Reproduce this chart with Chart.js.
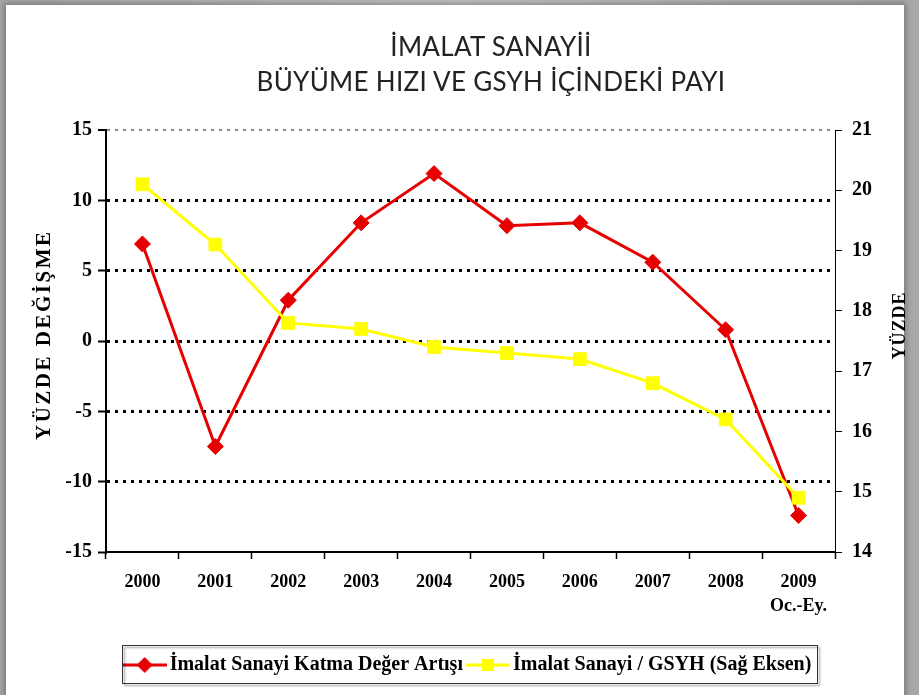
<!DOCTYPE html>
<html lang="tr">
<head>
<meta charset="utf-8">
<title>İmalat Sanayii</title>
<script src="https://cdn.jsdelivr.net/npm/chart.js@4.4.1/dist/chart.umd.min.js"></script>
<style>
  html, body { margin: 0; padding: 0; }
  body {
    position: relative;
    width: 919px;
    height: 695px;
    overflow: hidden;
    background: linear-gradient(90deg, #a8a8a8, #c4c4c4 50%, #a8a8a8);
  }
  #sheet {
    position: absolute;
    left: 6px;
    top: 5px;
    width: 898px;
    height: 700px;
    background: #fff;
    box-shadow: 0 0 6px 2px rgba(0, 0, 0, 0.3);
  }
  #title {
    position: absolute;
    left: 63px;
    top: 29px;
    width: 856px;
    text-align: center;
    font-family: Lato, "Open Sans", sans-serif;
    font-size: 26px;
    letter-spacing: 0.3px;
    line-height: 35px;
    color: #222;
  }
  #chart {
    position: absolute;
    left: 0;
    top: 0;
  }
</style>
</head>
<body>
<div id="sheet"></div>
<canvas id="chart" width="919" height="695"></canvas>
<div id="title">İMALAT SANAYİİ<br>BÜYÜME HIZI VE GSYH İÇİNDEKİ PAYI</div>

<script>
// Veriler
const YEARS = ['2000', '2001', '2002', '2003', '2004', '2005', '2006', '2007', '2008', ['2009', 'Oc.-Ey.']];
const GROWTH = [6.9, -7.5, 2.9, 8.4, 11.9, 8.2, 8.4, 5.6, 0.8, -12.4];   // sol eksen
const GDP_SHARE = [20.1, 19.1, 17.8, 17.7, 17.4, 17.3, 17.2, 16.8, 16.2, 14.9]; // sağ eksen
const SERIES_NAMES = ['İmalat Sanayi Katma Değer Artışı', 'İmalat Sanayi / GSYH (Sağ Eksen)'];
const LEFT_TITLE = 'YÜZDE DEĞİŞME';
const RIGHT_TITLE = 'YÜZDE';

const RED = '#e60000';
const YELLOW = '#ffff00';
const SERIF = '"Liberation Serif", "Times New Roman", serif';

// legend ikonu: çizgi + işaret
function legendIcon(color, shape) {
  const c = document.createElement('canvas');
  c.width = 44;
  c.height = 20;
  const g = c.getContext('2d');
  g.strokeStyle = color;
  g.fillStyle = color;
  g.lineWidth = 3;
  g.beginPath();
  g.moveTo(0, 10);
  g.lineTo(44, 10);
  g.stroke();
  g.beginPath();
  if (shape === 'diamond') {
    g.moveTo(22, 2);
    g.lineTo(30, 10);
    g.lineTo(22, 18);
    g.lineTo(14, 10);
    g.closePath();
    g.fill();
  } else {
    g.fillRect(16, 4, 12, 12);
  }
  return c;
}
const LEGEND_ICONS = [legendIcon(RED, 'diamond'), legendIcon(YELLOW, 'square')];

// dikey eksen başlığı (aşağıdan yukarı, harf aralıklı)
function sideTitle(xOf, dy, spacing) {
  return function () {
    const { ctx, chart, options: { title } } = this;
    if (!title.display) return;
    const area = chart.chartArea;
    ctx.save();
    ctx.translate(xOf(this), (area.top + area.bottom) / 2 + dy);
    ctx.rotate(-Math.PI / 2);
    ctx.font = `bold ${title.font.size}px ${SERIF}`;
    ctx.letterSpacing = spacing + 'px';
    ctx.fillStyle = '#000';
    ctx.textAlign = 'center';
    ctx.textBaseline = 'middle';
    ctx.fillText(title.text, spacing / 2, 0);
    ctx.restore();
  };
}

// legend çerçevesi
const legendFrame = {
  id: 'legendFrame',
  afterDraw(chart) {
    const lg = chart.legend;
    if (!lg || !lg.legendHitBoxes || !lg.legendHitBoxes.length) return;
    const hb = lg.legendHitBoxes;
    const left = Math.min(...hb.map(b => b.left)) - 8;
    const right = Math.max(...hb.map(b => b.left + b.width)) + 5;
    const { ctx } = chart;
    ctx.save();
    ctx.shadowColor = 'rgba(0,0,0,0.45)';
    ctx.shadowOffsetX = 2;
    ctx.shadowOffsetY = 2;
    ctx.shadowBlur = 2;
    ctx.strokeStyle = '#333';
    ctx.lineWidth = 1;
    ctx.strokeRect(Math.round(left) + 0.5, lg.top + 0.5, Math.round(right - left), lg.height - 2);
    ctx.restore();
  }
};

new Chart(document.getElementById('chart'), {
  type: 'line',
  data: {
    labels: YEARS,
    datasets: [
      {
        label: SERIES_NAMES[0],
        data: GROWTH,
        yAxisID: 'y',
        order: 1,
        borderColor: RED,
        backgroundColor: RED,
        borderWidth: 3,
        pointStyle: 'rectRot',
        pointRadius: 8,
        pointBorderWidth: 1,
        tension: 0
      },
      {
        label: SERIES_NAMES[1],
        data: GDP_SHARE,
        yAxisID: 'y1',
        order: 0,
        borderColor: YELLOW,
        backgroundColor: YELLOW,
        borderWidth: 3,
        pointStyle: 'rect',
        pointRadius: 9,
        pointBorderWidth: 1,
        tension: 0
      }
    ]
  },
  options: {
    responsive: false,
    animation: false,
    devicePixelRatio: 1,
    events: [],
    layout: { padding: { left: 8, right: 4, top: 130, bottom: 10 } },
    scales: {
      x: {
        offset: true,
        afterFit(s) { s.height = 93; },
        grid: {
          offset: true,
          drawOnChartArea: false,
          tickLength: 7,
          tickColor: '#000',
          tickWidth: 1.5
        },
        border: { color: '#000', width: 2 },
        ticks: {
          autoSkip: false,
          maxRotation: 0,
          padding: 11,
          color: '#000',
          font: { family: SERIF, size: 18, weight: 'bold', lineHeight: 1.35 }
        }
      },
      y: {
        position: 'left',
        min: -15,
        max: 15,
        afterFit(s) {
          s.width = 98;
          s.drawTitle = sideTitle(sc => sc.left + 37, -5, 2.5);
        },
        title: { display: true, text: LEFT_TITLE, font: { family: SERIF, size: 21, weight: 'bold' } },
        grid: {
          color: c => c.tick.value === 15 ? '#8a8a8a' : (c.tick.value === -15 ? 'rgba(0,0,0,0)' : '#000'),
          lineWidth: c => c.tick.value === 15 ? 2 : 3,
          tickColor: '#000',
          tickWidth: 2,
          tickLength: 8
        },
        border: { color: '#000', width: 2, dash: [3, 5] },
        ticks: {
          stepSize: 5,
          padding: 6,
          color: '#000',
          font: { family: SERIF, size: 20, weight: 'bold' }
        }
      },
      y1: {
        position: 'right',
        min: 14,
        max: 21,
        afterFit(s) {
          s.width = 80;
          s.drawTitle = sideTitle(sc => sc.right - 15, -15, 1);
        },
        title: { display: true, text: RIGHT_TITLE, font: { family: SERIF, size: 18, weight: 'bold' } },
        grid: {
          drawOnChartArea: false,
          tickColor: '#000',
          tickWidth: 1,
          tickLength: 7
        },
        border: { color: '#000', width: 1 },
        ticks: {
          stepSize: 1,
          padding: 10,
          color: '#000',
          font: { family: SERIF, size: 20, weight: 'bold' }
        }
      }
    },
    plugins: {
      tooltip: { enabled: false },
      title: { display: false },
      legend: {
        position: 'bottom',
        fullSize: false,
        labels: {
          usePointStyle: true,
          pointStyleWidth: 30,
          padding: 10,
          color: '#000',
          font: { family: SERIF, size: 20, weight: 'bold' },
          sort: (a, b) => a.datasetIndex - b.datasetIndex,
          generateLabels(chart) {
            const items = Chart.defaults.plugins.legend.labels.generateLabels(chart);
            items.forEach(it => { it.pointStyle = LEGEND_ICONS[it.datasetIndex]; });
            return items;
          }
        }
      }
    }
  },
  plugins: [legendFrame]
});
</script>
</body>
</html>
